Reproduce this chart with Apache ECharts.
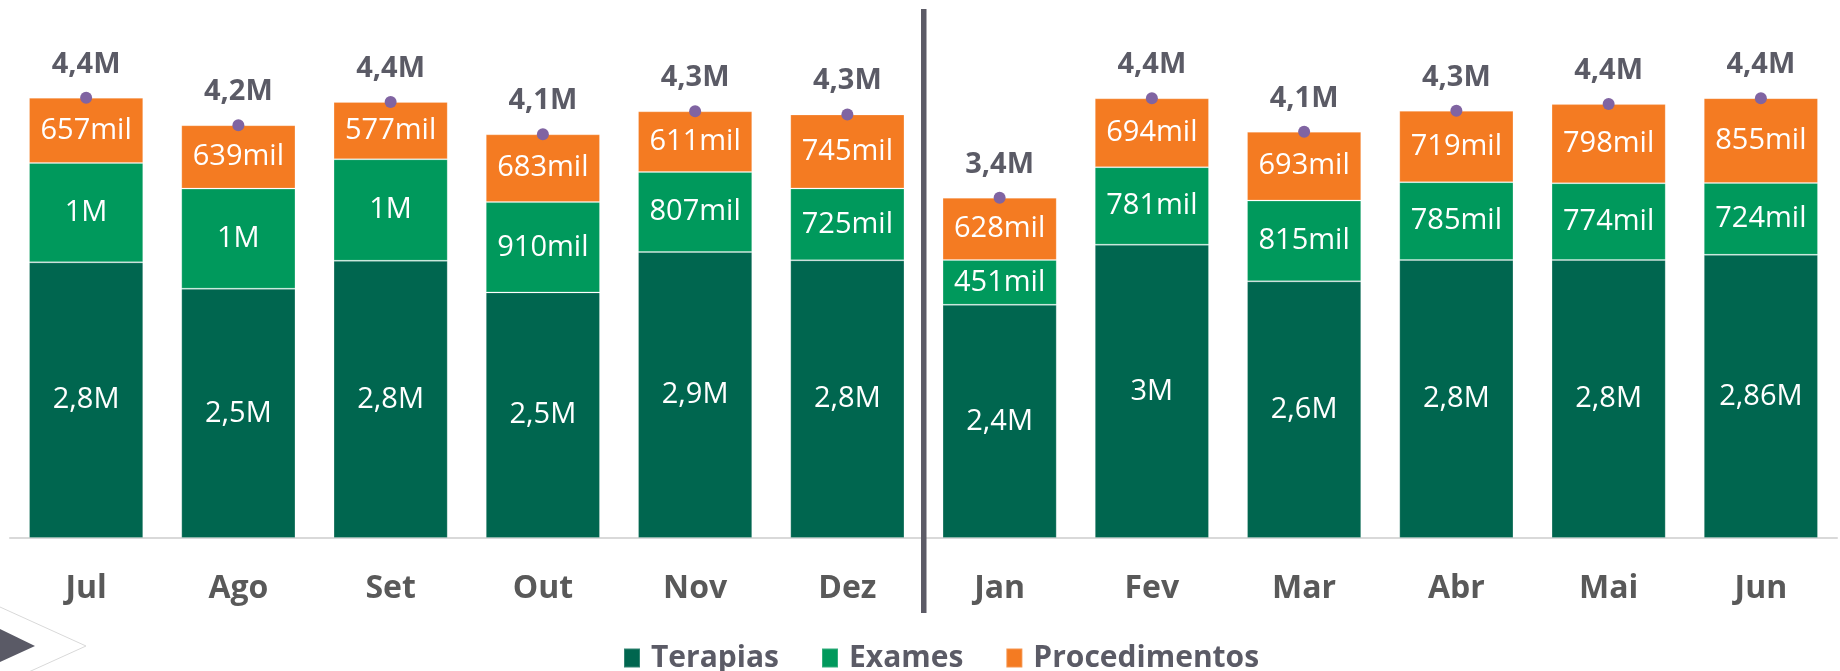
<!DOCTYPE html>
<html>
<head>
<meta charset="utf-8">
<script src="https://cdn.jsdelivr.net/npm/echarts@6/dist/echarts.min.js"></script>
<style>
	html, body { margin: 0; padding: 0; background: #ffffff; }
	#chart { width: 1840px; height: 671px; }
</style>
</head>
<body>
<div id="chart"></div>
<script>
	// meses (jul a jun)
	var meses = ['Jul', 'Ago', 'Set', 'Out', 'Nov', 'Dez', 'Jan', 'Fev', 'Mar', 'Abr', 'Mai', 'Jun'];

	// valores por categoria
	var terapias = [2779000, 2513000, 2795000, 2476000, 2883000, 2799000, 2351000, 2957000, 2587000, 2802000, 2802000, 2855000];
	var exames = [1002000, 1009000, 1023000, 910000, 807000, 725000, 451000, 781000, 815000, 785000, 774000, 724000];
	var procedimentos = [657000, 639000, 577000, 683000, 611000, 745000, 628000, 694000, 693000, 719000, 798000, 855000];

	// textos dos rotulos
	var terapiasLabels = ['2,8M', '2,5M', '2,8M', '2,5M', '2,9M', '2,8M', '2,4M', '3M', '2,6M', '2,8M', '2,8M', '2,86M'];
	var examesLabels = ['1M', '1M', '1M', '910mil', '807mil', '725mil', '451mil', '781mil', '815mil', '785mil', '774mil', '724mil'];
	var procedimentosLabels = ['657mil', '639mil', '577mil', '683mil', '611mil', '745mil', '628mil', '694mil', '693mil', '719mil', '798mil', '855mil'];
	var totalLabels = ['4,4M', '4,2M', '4,4M', '4,1M', '4,3M', '4,3M', '3,4M', '4,4M', '4,1M', '4,3M', '4,4M', '4,4M'];

	var totais = [];
	for (var i = 0; i < meses.length; i++) {
		totais.push(terapias[i] + exames[i] + procedimentos[i]);
	}

	var fonte = "'Open Sans', 'Noto Sans', sans-serif";

	function barLabel(textos) {
		return {
			show: true,
			position: 'inside',
			color: '#ffffff',
			fontSize: 29,
			fontFamily: fonte,
			formatter: function (params) {
				return textos[params.dataIndex];
			}
		};
	}

	var myChart = echarts.init(document.getElementById('chart'));
	myChart.setOption({
		animation: false,
		grid: {
			left: 10,
			right: 3,
			top: 42,
			bottom: 133
		},
		legend: {
			left: 618,
			top: 638,
			icon: 'rect',
			itemWidth: 16,
			itemHeight: 19,
			itemGap: 42,
			data: ['Terapias', 'Exames', 'Procedimentos'],
			textStyle: {
				color: '#5b5b66',
				fontSize: 30,
				fontWeight: 'bold',
				fontFamily: fonte,
				padding: [0, 0, 0, 6]
			}
		},
		xAxis: {
			type: 'category',
			data: meses,
			axisLine: {
				lineStyle: {
					color: '#d9d9d9',
					width: 2
				}
			},
			axisTick: { show: false },
			axisLabel: {
				color: '#595959',
				fontSize: 32,
				fontWeight: 'bold',
				fontFamily: fonte,
				margin: 35
			}
		},
		yAxis: {
			type: 'value',
			min: 0,
			max: 5000000,
			show: false
		},
		series: [
			{
				name: 'Terapias',
				type: 'bar',
				stack: 'total',
				barCategoryGap: '25%',
				itemStyle: { color: '#00664f', borderColor: 'rgba(255,255,255,0.2)', borderWidth: 1 },
				label: barLabel(terapiasLabels),
				data: terapias
			},
			{
				name: 'Exames',
				type: 'bar',
				stack: 'total',
				barCategoryGap: '25%',
				itemStyle: { color: '#00995c', borderColor: 'rgba(255,255,255,0.2)', borderWidth: 1 },
				label: barLabel(examesLabels),
				data: exames
			},
			{
				name: 'Procedimentos',
				type: 'bar',
				stack: 'total',
				barCategoryGap: '25%',
				itemStyle: { color: '#f47b22', borderColor: 'rgba(255,255,255,0.2)', borderWidth: 1 },
				label: barLabel(procedimentosLabels),
				data: procedimentos
			},
			{
				name: 'Total',
				type: 'line',
				z: 5,
				symbol: 'circle',
				symbolSize: 12,
				lineStyle: { opacity: 0 },
				itemStyle: { color: '#8064a2' },
				label: {
					show: true,
					position: 'top',
					distance: 13,
					color: '#5b5b66',
					fontSize: 29,
					fontWeight: 'bold',
					fontFamily: fonte,
					formatter: function (params) {
						return totalLabels[params.dataIndex];
					}
				},
				data: totais
			}
		],
		graphic: [
			{
				// divisoria entre os anos
				type: 'rect',
				shape: { x: 921, y: 9, width: 5.5, height: 604 },
				style: { fill: '#5c5b66' },
				z: 10
			},
			{
				type: 'polyline',
				shape: { points: [[0, 607], [86, 646], [0, 685]] },
				style: { stroke: '#d9d9d9', lineWidth: 1, fill: null }
			},
			{
				type: 'polygon',
				shape: { points: [[0, 629], [35, 646], [0, 662]] },
				style: { fill: '#5a5a66' }
			}
		]
	});
</script>
</body>
</html>
